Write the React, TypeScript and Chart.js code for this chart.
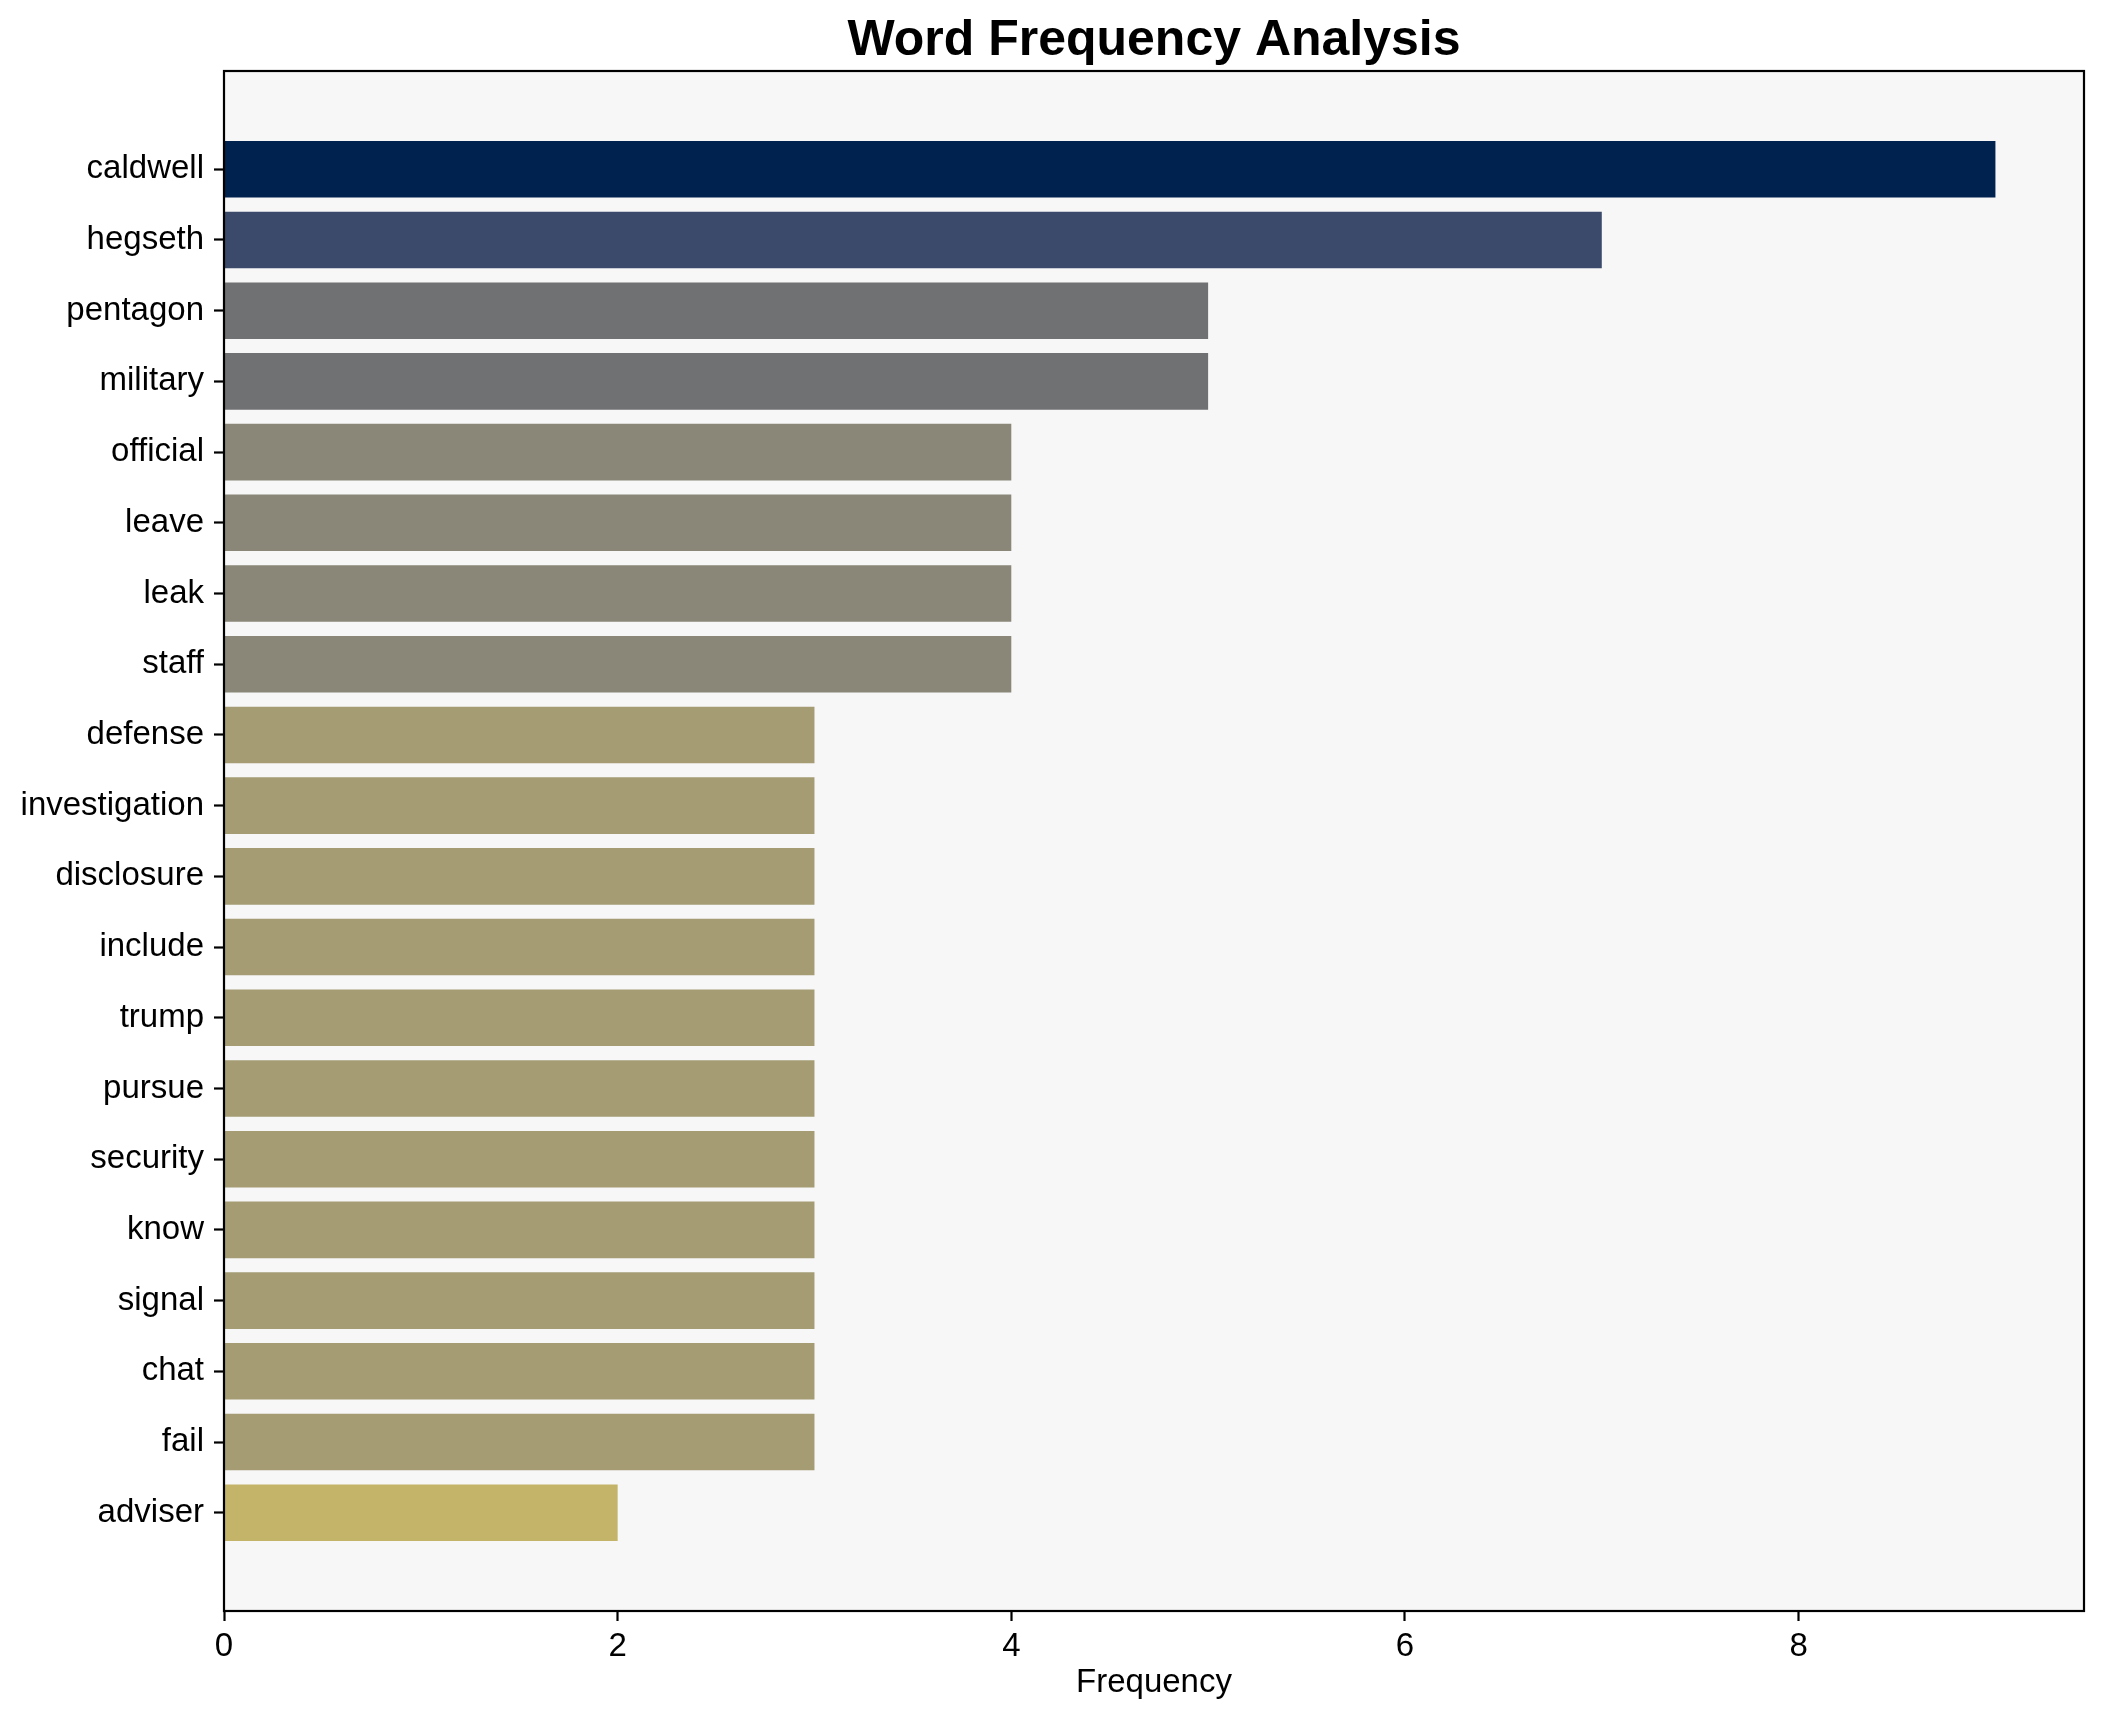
import React, { useEffect, useRef } from "react";
import { Chart, registerables } from "chart.js";

Chart.register(...registerables);

const words: string[] = [
  "caldwell", "hegseth", "pentagon", "military", "official", "leave", "leak", "staff",
  "defense", "investigation", "disclosure", "include", "trump", "pursue", "security",
  "know", "signal", "chat", "fail", "adviser",
];
const counts: number[] = [9, 7, 5, 5, 4, 4, 4, 4, 3, 3, 3, 3, 3, 3, 3, 3, 3, 3, 3, 2];
const colorByCount: Record<number, string> = {
  9: "#00224e",
  7: "#3b4a6b",
  5: "#707173",
  4: "#8a8779",
  3: "#a59c74",
  2: "#c4b46a",
};
const xTicks: number[] = [0, 2, 4, 6, 8];
const titleText = "Word Frequency Analysis";

const FONT = "'Liberation Sans', Arial, Helvetica, sans-serif";

const framePlugin = {
  id: "frame",
  beforeDraw(chart: any) {
    const { ctx, chartArea: a } = chart;
    ctx.save();
    ctx.fillStyle = "#ffffff";
    ctx.fillRect(0, 0, chart.width, chart.height);
    ctx.fillStyle = "#f7f7f7";
    ctx.fillRect(a.left, a.top, a.right - a.left, a.bottom - a.top);
    ctx.restore();
  },
  afterDraw(chart: any) {
    const { ctx, chartArea: a } = chart;
    ctx.save();
    ctx.strokeStyle = "#000000";
    ctx.lineWidth = 2.2;
    ctx.strokeRect(a.left, a.top, a.right - a.left, a.bottom - a.top);
    ctx.fillStyle = "#000";
    ctx.font = `bold 50px ${FONT}`;
    ctx.textAlign = "center";
    ctx.textBaseline = "middle";
    ctx.fillText(titleText, (a.left + a.right) / 2, 41);
    ctx.restore();
  },
};

export default function App() {
  const ref = useRef<HTMLCanvasElement | null>(null);
  useEffect(() => {
    document.body.style.margin = "0";
    if (!ref.current) return;
    const maxCount = Math.max(...counts);
    const n = words.length;
    const span = n - 1 + 0.8;
    const pad = span * 0.05;
    const chart = new Chart(ref.current, {
      type: "bar",
      data: {
        datasets: [
          {
            data: words.map((_, i) => ({ x: counts[i], y: i })) as any,
            backgroundColor: counts.map((c) => colorByCount[c]),
            borderWidth: 0,
            barPercentage: 0.8,
            categoryPercentage: 1,
          },
        ],
      },
      options: {
        indexAxis: "y",
        animation: false,
        responsive: false,
        maintainAspectRatio: false,
        devicePixelRatio: 1,
        layout: { padding: { left: 0, right: 20, top: 71, bottom: 0 } },
        plugins: {
          legend: { display: false },
          tooltip: { enabled: false },
          title: { display: false },
        },
        scales: {
          x: {
            type: "linear",
            min: 0,
            max: maxCount * 1.05,
            offset: false,
            afterBuildTicks: (s: any) => {
              s.ticks = xTicks.map((v) => ({ value: v }));
            },
            afterFit: (s: any) => {
              s.height = 111;
            },
            grid: {
              display: true,
              offset: false,
              drawOnChartArea: false,
              drawTicks: true,
              tickLength: 10,
              tickWidth: 2.2,
              tickColor: "#000",
            },
            border: { display: false },
            ticks: {
              color: "#000",
              padding: 6,
              font: { family: FONT, size: 33 },
              maxRotation: 0,
              callback: (v: any) => String(v),
            },
            title: {
              display: true,
              text: "Frequency",
              color: "#000",
              font: { family: FONT, size: 33, lineHeight: 1.2 },
              padding: { top: 0, bottom: 19 },
            },
          },
          y: {
            type: "linear",
            reverse: true,
            offset: false,
            min: -0.4 - pad,
            max: n - 1 + 0.4 + pad,
            afterBuildTicks: (s: any) => {
              s.ticks = words.map((_, i) => ({ value: i }));
            },
            afterFit: (s: any) => {
              s.width = 224;
            },
            grid: {
              display: true,
              offset: false,
              drawOnChartArea: false,
              drawTicks: true,
              tickLength: 10,
              tickWidth: 2.2,
              tickColor: "#000",
            },
            border: { display: false },
            ticks: {
              color: "#000",
              padding: 10,
              autoSkip: false,
              font: { family: FONT, size: 33 },
              callback: (v: any) => words[v as number] ?? "",
            },
          },
        },
      },
      plugins: [framePlugin],
    });
    return () => chart.destroy();
  }, []);
  return (
    <div style={{ width: 2104, height: 1722 }}>
      <canvas ref={ref} width={2104} height={1722} style={{ display: "block", width: 2104, height: 1722 }} />
    </div>
  );
}
